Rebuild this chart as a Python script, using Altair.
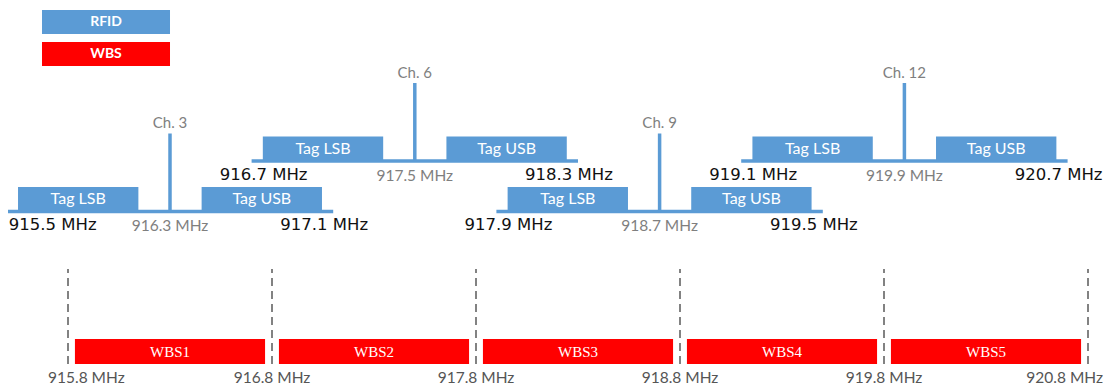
import altair as alt
import pandas as pd

# ---------------- data ----------------
channels = ["Ch. 3", "Ch. 6", "Ch. 9", "Ch. 12"]
center_mhz = [916.3, 917.5, 918.7, 919.9]
channel_row = [1, 2, 1, 2]          # 1 = lower row, 2 = upper row
channel_half_span = 0.8             # MHz, carrier to channel edge
sidebands = ["Tag LSB", "Tag USB"]
sideband_inner = 0.155              # MHz from carrier
sideband_outer = 0.745              # MHz from carrier
wbs_names = ["WBS1", "WBS2", "WBS3", "WBS4", "WBS5"]
wbs_edges = [915.8, 916.8, 917.8, 918.8, 919.8, 920.8]
wbs_guard = 0.034                   # MHz gap inside each WBS slot
band_types = ["RFID", "WBS"]
band_colors = ["#5B9BD5", "#FF0000"]

# ---------------- layout (vertical levels, abstract units) ----------------
ROW_BASE = {1: 16.55, 2: 21.6}
BOX_H = 2.45
SPIKE_H = 7.8
CH_LABEL_OFF = 8.85
EDGE_LABEL_OFF = -1.35
CENTER_LABEL_OFF = -1.45
WBS_Y0, WBS_Y1 = 1.3, 3.8
DASH_Y0, DASH_Y1 = 1.3, 10.8
BOTTOM_LABEL_Y = -0.1

W, H = 1096, 377
x0_dom = 915.8 - 60 / 204
x_scale = alt.Scale(domain=[x0_dom, x0_dom + W / 204], nice=False, zero=False)
y_scale = alt.Scale(domain=[-0.8, 36.9], nice=False, zero=False)

BLUE = band_colors[0]

# ---------------- tables ----------------
ch_rows = []
for i, (name, c, r) in enumerate(zip(channels, center_mhz, channel_row)):
    base = ROW_BASE[r]
    ch_rows.append(dict(
        idx=i, name=name, center=c, lo=c - channel_half_span, hi=c + channel_half_span,
        base=base, spike_top=base + SPIKE_H, ch_y=base + CH_LABEL_OFF,
        edge_y=base + EDGE_LABEL_OFF, center_y=base + CENTER_LABEL_OFF,
        lo_label=f"{c - channel_half_span:.1f} MHz", hi_label=f"{c + channel_half_span:.1f} MHz",
        center_label=f"{c:.1f} MHz",
    ))
ch_df = pd.DataFrame(ch_rows)

sb_rows = []
for row in ch_rows:
    c = row["center"]
    for sb, sgn in zip(sidebands, [-1, 1]):
        a, b = c + sgn * sideband_inner, c + sgn * sideband_outer
        sb_rows.append(dict(label=sb, x0=min(a, b), x1=max(a, b), xm=(a + b) / 2,
                            y0=row["base"], y1=row["base"] + BOX_H,
                            ym=row["base"] + BOX_H / 2, type=band_types[0]))
sb_df = pd.DataFrame(sb_rows)

wbs_df = pd.DataFrame(dict(
    name=wbs_names,
    x0=[e + wbs_guard for e in wbs_edges[:-1]],
    x1=[e - wbs_guard for e in wbs_edges[1:]],
    xm=[(a + b) / 2 for a, b in zip(wbs_edges[:-1], wbs_edges[1:])],
    type=band_types[1],
))
edge_df = pd.DataFrame(dict(edge=wbs_edges, label=[f"{e:.1f} MHz" for e in wbs_edges],
                            idx=list(range(len(wbs_edges)))))


def X(f):
    return alt.X(f, type="quantitative", scale=x_scale, axis=None)


def Y(f):
    return alt.Y(f, type="quantitative", scale=y_scale, axis=None)


def Yd(v):
    return alt.Y(datum=v, type="quantitative", scale=y_scale, axis=None)


legend = alt.Legend(
    orient="none", legendX=34, legendY=2, title=None,
    symbolType="M-1,-1L9.667,-1L9.667,1L-1,1Z", symbolSize=576,
    symbolStrokeWidth=0, symbolOpacity=1,
    labelOffset=40, labelAlign="center", labelColor="white",
    labelFont="Lato", labelFontSize=14, labelFontWeight="bold",
    rowPadding=8, padding=0,
)
color = alt.Color("type:N", scale=alt.Scale(domain=band_types, range=band_colors), legend=legend)

base_ch = alt.Chart(ch_df)

base_lines = base_ch.mark_rule(strokeWidth=3.5, color=BLUE).encode(
    x=X("lo"), x2="hi", y=Y("base"))
spikes = base_ch.mark_rule(strokeWidth=3.5, color=BLUE).encode(
    x=X("center"), y=Y("base"), y2="spike_top")
sb_rect = alt.Chart(sb_df).mark_rect().encode(
    x=X("x0"), x2="x1", y=Y("y0"), y2="y1", color=color)
sb_text = alt.Chart(sb_df).mark_text(font="Lato", fontSize=16, color="white", baseline="middle").encode(
    x=X("xm"), y=Y("ym"), text="label")
ch_text = base_ch.mark_text(font="Lato", fontSize=15, color="#7f7f7f", baseline="middle").encode(
    x=X("center"), y=Y("ch_y"), text="name")
center_text = base_ch.mark_text(font="Lato", fontSize=15.5, color="#7f7f7f", baseline="middle").encode(
    x=X("center"), y=Y("center_y"), text="center_label")
edge_style = dict(font="DejaVu Sans", fontSize=16.5, color="#111111", baseline="middle")
lo_text_first = base_ch.transform_filter("datum.idx == 0").mark_text(
    align="left", dx=2, **edge_style).encode(x=X("lo"), y=Y("edge_y"), text="lo_label")
lo_text = base_ch.transform_filter("datum.idx > 0").mark_text(
    align="center", dx=12, **edge_style).encode(x=X("lo"), y=Y("edge_y"), text="lo_label")
hi_text = base_ch.mark_text(
    align="center", dx=-9, **edge_style).encode(x=X("hi"), y=Y("edge_y"), text="hi_label")

dashes = alt.Chart(edge_df).mark_rule(color="#5a5a5a", strokeWidth=1.5, strokeDash=[8, 5]).encode(
    x=X("edge"), y=Yd(DASH_Y0), y2=alt.Y2(datum=DASH_Y1))
wbs_rect = alt.Chart(wbs_df).mark_rect().encode(
    x=X("x0"), x2="x1", y=Yd(WBS_Y0), y2=alt.Y2(datum=WBS_Y1), color=color)
wbs_text = alt.Chart(wbs_df).mark_text(font="Liberation Serif", fontSize=15, color="white", baseline="middle").encode(
    x=X("xm"), y=Yd((WBS_Y0 + WBS_Y1) / 2), text="name")

n_edges = len(wbs_edges)
bottom_style = dict(font="Lato", fontSize=15.5, color="#555555", baseline="middle")
bot_first = alt.Chart(edge_df).transform_filter("datum.idx == 0").mark_text(
    align="left", dx=-20, **bottom_style).encode(x=X("edge"), y=Yd(BOTTOM_LABEL_Y), text="label")
bot_mid = alt.Chart(edge_df).transform_filter(f"datum.idx > 0 && datum.idx < {n_edges - 1}").mark_text(
    align="center", **bottom_style).encode(x=X("edge"), y=Yd(BOTTOM_LABEL_Y), text="label")
bot_last = alt.Chart(edge_df).transform_filter(f"datum.idx == {n_edges - 1}").mark_text(
    align="right", dx=15, **bottom_style).encode(x=X("edge"), y=Yd(BOTTOM_LABEL_Y), text="label")

chart = alt.layer(
    base_lines, spikes, sb_rect, sb_text, ch_text, center_text,
    lo_text_first, lo_text, hi_text,
    dashes, wbs_rect, wbs_text, bot_first, bot_mid, bot_last,
).properties(
    width=W, height=H, padding=0, autosize=alt.AutoSizeParams(type="none"),
    background="white",
).configure_view(strokeWidth=0)

chart.save("out.html", embed_options={"renderer": "svg", "actions": False})
